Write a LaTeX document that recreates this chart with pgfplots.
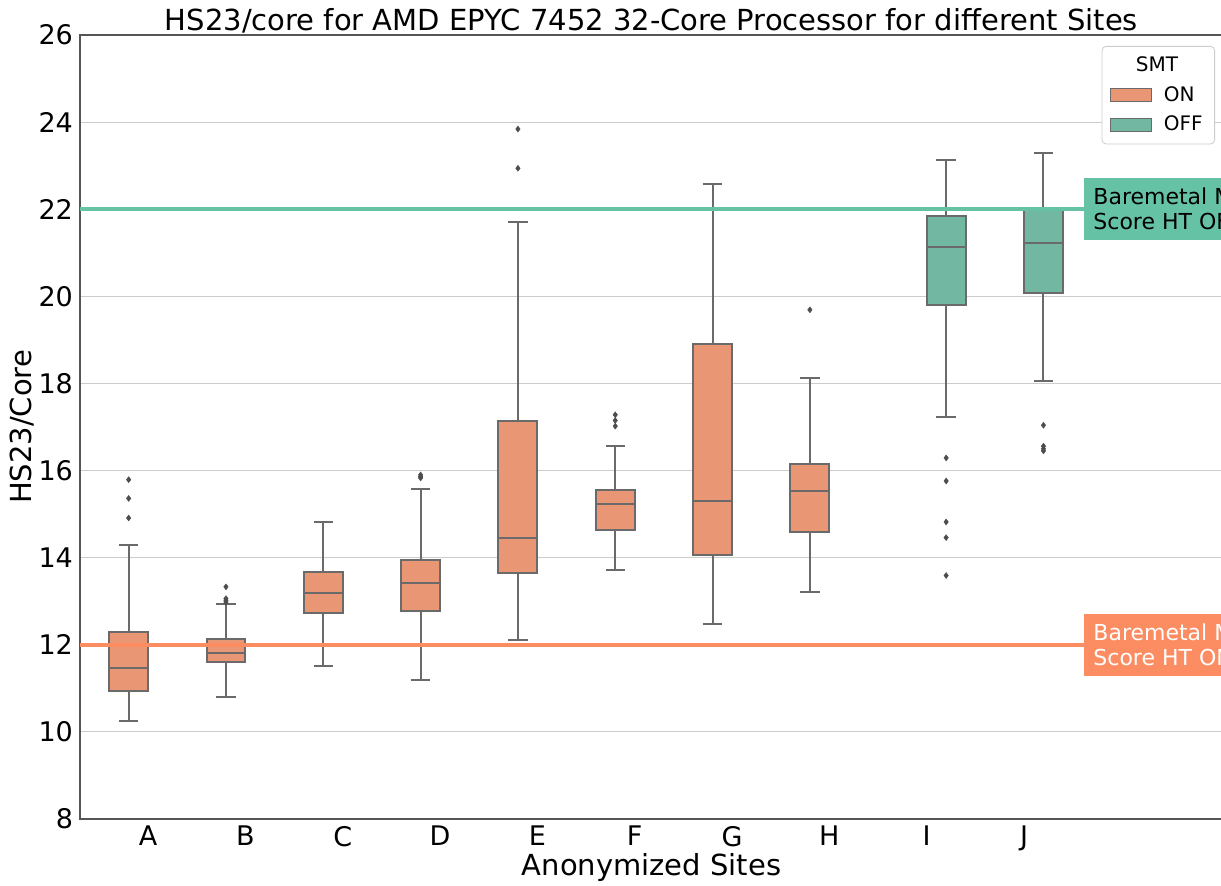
\documentclass[border=0pt]{standalone}
\usepackage{fontspec}
\setmainfont{DejaVu Sans}
\usepackage{pgfplots}
\pgfplotsset{compat=1.18}
\usepgfplotslibrary{statistics}

\definecolor{onfill}{HTML}{E99675}
\definecolor{offfill}{HTML}{71B7A1}
\definecolor{online}{HTML}{FC8D62}
\definecolor{offline}{HTML}{66C2A5}
\definecolor{boxline}{HTML}{6A6A6A}
\definecolor{outc}{HTML}{4D4D4D}
\definecolor{gridc}{HTML}{CCCCCC}
\definecolor{spine}{HTML}{555555}

\pgfplotsset{
  smtbox/.style={draw=boxline, line width=1pt,
    mark=diamond*, mark size=1.5pt,
    mark options={draw=outc, fill=outc, line width=0.2pt},
    boxplot/box extend=0.4, boxplot/whisker extend=0.2,
    boxplot/every whisker/.style={draw=boxline, line width=1pt},
    boxplot/every median/.style={draw=boxline, line width=1pt}},
  smton/.style={smtbox, boxplot/every box/.style={fill=onfill, draw=boxline, line width=1pt}},
  smtoff/.style={smtbox, boxplot/every box/.style={fill=offfill, draw=boxline, line width=1pt}},
}

\begin{document}
\begin{tikzpicture}
\begin{axis}[
    at={(0,0)}, anchor=south west,
    scale only axis, width=571.5pt, height=392pt,
    boxplot/draw direction=y,
    xmin=-0.7, xmax=11.045, ymin=8, ymax=26,
    xtick={0,...,9}, xticklabels={A,B,C,D,E,F,G,H,I,J},
    ytick={8,10,...,26},
    major tick length=0pt,
    ymajorgrids, grid style={gridc, line width=0.5pt},
    axis line style={spine, line width=0.6pt},
    tick label style={font=\fontsize{13.5}{16}\selectfont},
    /pgf/number format/assume math mode=true,
    every axis title shift=0pt,
    title={HS23/core for AMD EPYC 7452 32-Core Processor for different Sites},
    title style={font=\fontsize{14.5}{17}\selectfont, at={(axis description cs:0.5,1)}, anchor=base, yshift=2pt},
    xlabel={Anonymized Sites},
    xlabel style={font=\fontsize{14.5}{17}\selectfont, at={(axis description cs:0.5,0)}, anchor=base, yshift=-28.5pt},
    ylabel={HS23/Core},
    ylabel style={font=\fontsize{14.5}{17}\selectfont, at={(axis description cs:-0.042,0.5)}, anchor=base},
    legend style={at={(axis description cs:1,1)}, anchor=north east, xshift=-4pt, yshift=-5.5pt,
      draw=gridc, rounded corners=2pt, fill=white, font=\fontsize{10}{12}\selectfont,
      cells={anchor=west}, row sep=2pt, inner xsep=4pt, inner ysep=3pt},
]
% legend first, so the boxplots after it get no entries
\addlegendimage{empty legend}
\addlegendentry{\hspace{-10pt}SMT}
\addlegendimage{legend image code/.code={\draw[sharp corners, fill=onfill, draw=boxline, line width=0.4pt] (0pt,-3.25pt) rectangle (20.5pt,3.25pt);}}
\addlegendentry{\hspace{4pt}ON}
\addlegendimage{legend image code/.code={\draw[sharp corners, fill=offfill, draw=boxline, line width=0.4pt] (0pt,-3.25pt) rectangle (20.5pt,3.25pt);}}
\addlegendentry{\hspace{4pt}OFF}
% A-H: SMT ON, drawn at tick-0.2
\addplot[smton, boxplot prepared={draw position=-0.2, lower whisker=10.25, lower quartile=10.93, median=11.47, upper quartile=12.29, upper whisker=14.30}]
  table[row sep=\\, y index=0] {v\\ 15.79\\ 15.36\\ 14.91\\};
\addplot[smton, boxplot prepared={draw position=0.8, lower whisker=10.81, lower quartile=11.60, median=11.82, upper quartile=12.13, upper whisker=12.93}]
  table[row sep=\\, y index=0] {v\\ 13.33\\ 13.06\\ 13.02\\ 12.98\\};
\addplot[smton, boxplot prepared={draw position=1.8, lower whisker=11.51, lower quartile=12.74, median=13.19, upper quartile=13.68, upper whisker=14.82}]
  coordinates {};
\addplot[smton, boxplot prepared={draw position=2.8, lower whisker=11.19, lower quartile=12.77, median=13.42, upper quartile=13.95, upper whisker=15.58}]
  table[row sep=\\, y index=0] {v\\ 15.90\\ 15.86\\ 15.83\\};
\addplot[smton, boxplot prepared={draw position=3.8, lower whisker=12.12, lower quartile=13.64, median=14.46, upper quartile=17.13, upper whisker=21.71}]
  table[row sep=\\, y index=0] {v\\ 23.84\\ 22.94\\};
\addplot[smton, boxplot prepared={draw position=4.8, lower whisker=13.72, lower quartile=14.63, median=15.23, upper quartile=15.55, upper whisker=16.56}]
  table[row sep=\\, y index=0] {v\\ 17.28\\ 17.15\\ 17.02\\};
\addplot[smton, boxplot prepared={draw position=5.8, lower whisker=12.48, lower quartile=14.07, median=15.31, upper quartile=18.91, upper whisker=22.58}]
  coordinates {};
\addplot[smton, boxplot prepared={draw position=6.8, lower whisker=13.20, lower quartile=14.59, median=15.54, upper quartile=16.15, upper whisker=18.13}]
  table[row sep=\\, y index=0] {v\\ 19.69\\};
% I-J: SMT OFF, drawn at tick+0.2
\addplot[smtoff, boxplot prepared={draw position=8.2, lower whisker=17.24, lower quartile=19.80, median=21.13, upper quartile=21.84, upper whisker=23.13}]
  table[row sep=\\, y index=0] {v\\ 16.29\\ 15.76\\ 14.82\\ 14.46\\ 13.59\\};
\addplot[smtoff, boxplot prepared={draw position=9.2, lower whisker=18.05, lower quartile=20.08, median=21.23, upper quartile=21.99, upper whisker=23.30}]
  table[row sep=\\, y index=0] {v\\ 17.04\\ 16.56\\ 16.50\\ 16.45\\};
% baremetal reference levels
\addplot[draw=online, line width=2pt] coordinates {(-0.7,12) (9.7,12)};
\addplot[draw=offline, line width=2pt] coordinates {(-0.7,22) (9.7,22)};
\node[fill=offline, text=black, anchor=west, align=left, inner xsep=4.5pt, inner ysep=5pt,
  font=\fontsize{11}{12.5}\selectfont] at (axis cs:9.617,22) {Baremetal Max\\Score HT OFF};
\node[fill=online, text=white, anchor=west, align=left, inner xsep=4.5pt, inner ysep=5pt,
  font=\fontsize{11}{12.5}\selectfont] at (axis cs:9.617,12) {Baremetal Max\\Score HT ON};
\end{axis}
\pgfresetboundingbox
\path[use as bounding box] (-40pt,-33.5pt) rectangle (570.5pt,409.5pt);
\end{tikzpicture}
\end{document}
